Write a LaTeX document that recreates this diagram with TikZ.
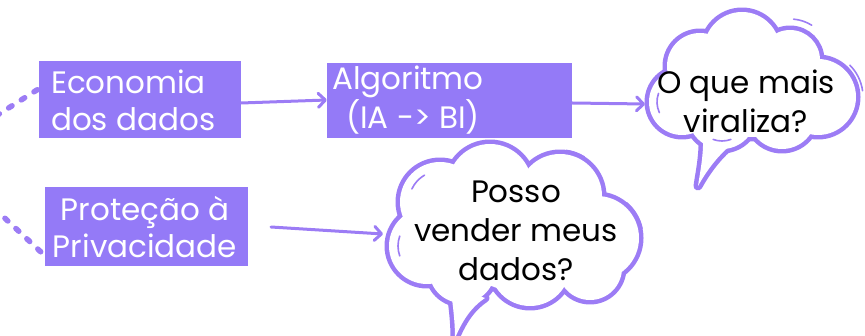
\documentclass[tikz,border=0pt]{standalone}
\usepackage{fontspec}
\setmainfont{Poppins}
\usetikzlibrary{arrows.meta}
\definecolor{boxpurple}{HTML}{947AF7}
\definecolor{linepurple}{HTML}{9C7CF5}
\tikzset{
  pbox/.style={fill=boxpurple, text=white, inner sep=0pt, font=\fontsize{31}{37}\selectfont},
  conn/.style={draw=linepurple, line width=3pt, line cap=round,
    -{Straight Barb[length=7pt,width=14pt,line width=3pt,round]}},
  dots/.style={draw=linepurple, line width=5.5pt, line cap=round, dash pattern=on 4pt off 11pt},
  ctext/.style={text=black, align=center, font=\fontsize{31}{39}\selectfont},
  cloudrim/.style={fill=linepurple},
  cloudfill/.style={fill=white},
  sketch/.style={draw=linepurple, line width=1.6pt, line cap=round},
}
\newcommand{\sketcharc}[5]{\draw[sketch] ([shift={(#3:#4)}]#1,#2) arc[start angle=#3, end angle=#5, radius=#4];}
\begin{document}
\begin{tikzpicture}[x=1pt,y=-1pt]
\useasboundingbox (0,0) rectangle (865,336);

% dotted lines (behind boxes)
\coordinate (d1s) at (-4,116);
\coordinate (d2s) at (-6,208);
\draw[dots] (d1s) -- (40,88);
\draw[dots] (d2s) -- (58,268);

% boxes
\node[pbox, minimum width=202pt, minimum height=77pt] (eco) at (140,99.5) {};
\node[pbox, anchor=west, align=left] (ecot) at (51,100) {Economia\\dos dados};
\node[pbox, minimum width=203pt, minimum height=79pt] (prot) at (146.5,226.5) {};
\node[pbox, align=center] (prott) at (145,227) {Proteção à\\Privacidade};
\node[pbox, minimum width=245pt, minimum height=75pt] (alg) at (449.5,100.5) {};
\node[pbox, anchor=west, align=left] (algt) at (332,100) {Algoritmo\\\hphantom{(}(IA -> BI)};

% cloud 1
\begin{scope}
  \def\cloudone#1{
    \path[#1] (700,66) circle (33pt);
    \path[#1] (742,50) circle (38pt);
    \path[#1] (790,60) circle (30pt);
    \path[#1] (818,97) circle (38pt);
    \path[#1] (682,102) circle (33pt);
    \path[#1] (722,115) circle (34pt);
    \path[#1] (782,115) circle (34pt);
    \path[#1] (752,92) circle (45pt);
    \path[#1] (703,132) .. controls (704,155) and (700,172) .. (698,186) .. controls (708,168) and (722,150) .. (738,140) -- cycle;
  }
  \cloudone{cloudrim, draw=linepurple, line width=9pt, line join=round}
  \cloudone{cloudfill}
\end{scope}
\sketcharc{790}{60}{-85}{41}{-58}
\sketcharc{818}{97}{-45}{45}{-8}
\sketcharc{682}{102}{155}{25}{200}
\sketcharc{722}{115}{70}{26}{110}
\coordinate (c1w) at (645,104);

% cloud 2
\begin{scope}
  \def\cloudtwo#1{
    \path[#1] (440,202) circle (40pt);
    \path[#1] (490,186) circle (42pt);
    \path[#1] (560,196) circle (42pt);
    \path[#1] (597,238) circle (42pt);
    \path[#1] (427,246) circle (38pt);
    \path[#1] (462,270) circle (33pt);
    \path[#1] (530,266) circle (40pt);
    \path[#1] (590,268) circle (32pt);
    \path[#1] (512,235) circle (55pt);
    \path[#1] (450,285) .. controls (453,305) and (455,322) .. (455,338) .. controls (462,322) and (470,308) .. (485,298) -- cycle;
  }
  \cloudtwo{cloudrim, draw=linepurple, line width=9pt, line join=round}
  \cloudtwo{cloudfill}
\end{scope}
\sketcharc{560}{196}{-82}{46}{-58}
\sketcharc{597}{238}{-50}{46}{-12}
\sketcharc{427}{246}{160}{29}{200}
\sketcharc{440}{202}{205}{31}{240}
\coordinate (c2w) at (383,234);

\node[ctext] (q1) at (746,101) {O que mais\\viraliza?};
\node[ctext] (q2) at (516,231) {Posso\\vender meus\\dados?};

% connectors
\draw[conn] (eco.east |- 0,103) -- (alg.west |- 0,100);
\draw[conn] (alg.east |- 0,103) -- (c1w);
\draw[conn] (271,227) -- (c2w);
\end{tikzpicture}
\end{document}
